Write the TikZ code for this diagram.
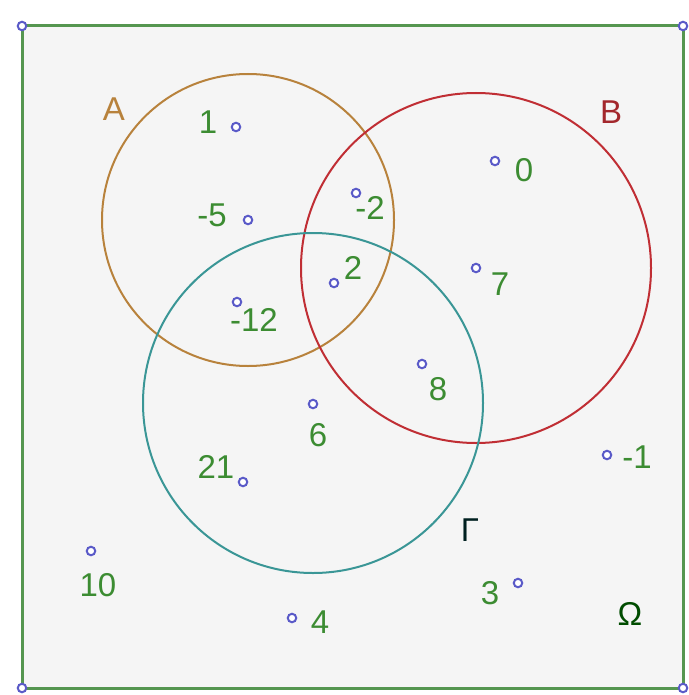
\documentclass[tikz,border=0pt]{standalone}
\usepackage{fontspec}
\setmainfont{Liberation Sans}
\begin{document}
\begin{tikzpicture}[x=1pt,y=-1pt,
  pt/.style={circle,draw=ptblue,fill=white,line width=2pt,inner sep=0pt,minimum size=8.5pt},
  num/.style={text=numgreen,font=\fontsize{33}{33}\selectfont,inner sep=0pt},
  setlbl/.style={font=\fontsize{33}{33}\selectfont,inner sep=0pt}]
\definecolor{ptblue}{HTML}{5A5AC8}
\definecolor{numgreen}{HTML}{3C8C32}
\definecolor{framegreen}{HTML}{559650}
\definecolor{colA}{HTML}{B8823C}
\definecolor{colB}{HTML}{C02E34}
\definecolor{colG}{HTML}{3A9696}
\useasboundingbox (0,0) rectangle (688,695);
\fill[white] (0,0) rectangle (688,695);
\fill[black!4] (22,26) rectangle (683,688);
% sets
\draw[colA,line width=2pt] (248,220) circle[radius=146pt];
\draw[colB,line width=2pt] (476,268) circle[radius=175pt];
\draw[colG,line width=2pt] (313,403) circle[radius=170pt];
% frame
\coordinate (c1) at (22,26);
\coordinate (c2) at (683,26);
\coordinate (c3) at (683,688);
\coordinate (c4) at (22,688);
\draw[framegreen,line width=3pt] (c1) -- (c2) -- (c3) -- (c4) -- cycle;
\node[pt] (k1) at (c1) {};
\node[pt] (k2) at (c2) {};
\node[pt] (k3) at (c3) {};
\node[pt] (k4) at (c4) {};
% set labels
\node[setlbl,text=colA] (lA) at (114,109) {A};
\node[setlbl,text=colB!85!black] (lB) at (611,112) {B};
\node[setlbl,text=black!75!teal] (lG) at (470,530) {Γ};
\node[setlbl,text=black!70!green] (lO) at (630,614) {Ω};
% points
\node[pt] (p1) at (236,127) {};   \node[num] (t1) at (208,122) {1};
\node[pt] (pm5) at (248,220) {};  \node[num] (tm5) at (212,215) {-5};
\node[pt] (pm2) at (356,193) {};  \node[num] (tm2) at (370,208) {-2};
\node[pt] (p2) at (334,283) {};   \node[num] (t2) at (353,268) {2};
\node[pt] (pm12) at (237,302) {}; \node[num] (tm12) at (254,320) {-12};
\node[pt] (p0) at (495,161) {};   \node[num] (t0) at (524,170) {0};
\node[pt] (p7) at (476,268) {};   \node[num] (t7) at (500,284) {7};
\node[pt] (p8) at (422,364) {};   \node[num] (t8) at (438,389) {8};
\node[pt] (p6) at (313,404) {};   \node[num] (t6) at (318,435) {6};
\node[pt] (p21) at (243,482) {};  \node[num] (t21) at (216,467) {21};
\node[pt] (pm1) at (607,455) {};  \node[num] (tm1) at (637,457) {-1};
\node[pt] (p10) at (91,551) {};   \node[num] (t10) at (98,585) {10};
\node[pt] (p3) at (518,583) {};   \node[num] (t3) at (490,593) {3};
\node[pt] (p4) at (292,618) {};   \node[num] (t4) at (320,622) {4};
\end{tikzpicture}
\end{document}
